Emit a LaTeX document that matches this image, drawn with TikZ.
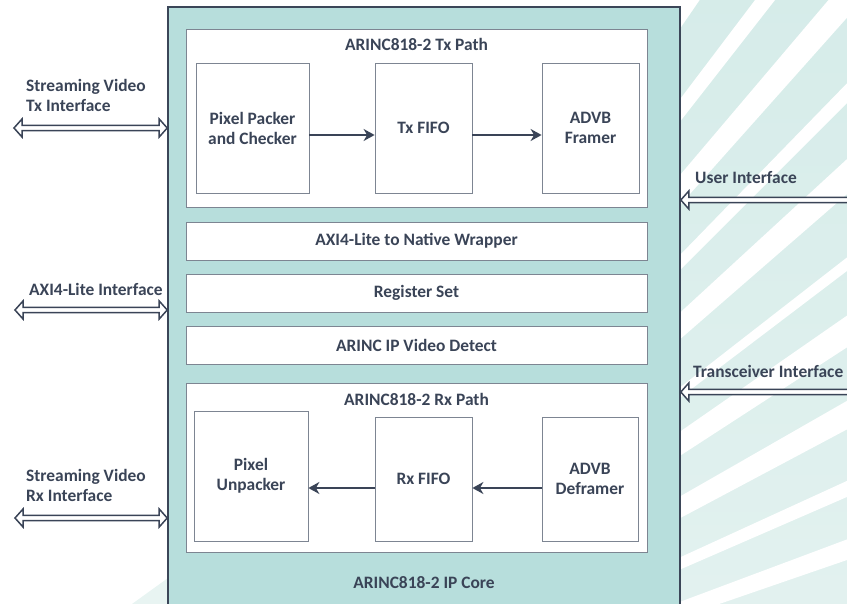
\documentclass[tikz,border=0pt]{standalone}
\usepackage{fontspec}
\setmainfont{Carlito}
\usetikzlibrary{arrows.meta,calc}

\definecolor{corefill}{HTML}{B7DEDC}
\definecolor{coreline}{HTML}{3B4658}
\definecolor{boxline}{HTML}{7D8592}
\definecolor{ink}{HTML}{3A4457}
\definecolor{fantop}{HTML}{CFE9E6}
\definecolor{fanbottom}{HTML}{E6F3F1}
\definecolor{fanpale}{HTML}{E8F4F2}

% hollow double-headed interface arrow from #1 (left end) to #2 (right end)
\newcommand{\portarrow}[2]{%
  \draw[portline] (#1) -- ($(#1)+(8,-9)$) -- ($(#1)+(8,-2.7)$)
    -- ($(#2)+(-8,-2.7)$) -- ($(#2)+(-8,-9)$) -- (#2)
    -- ($(#2)+(-8,9)$) -- ($(#2)+(-8,2.7)$)
    -- ($(#1)+(8,2.7)$) -- ($(#1)+(8,9)$) -- cycle;}

\begin{document}
\begin{tikzpicture}[x=1bp, y=-1bp,
  every node/.style={font=\fontsize{17.4bp}{20bp}\selectfont\bfseries, text=ink},
  corebox/.style={draw=coreline, line width=1.6bp, fill=corefill, inner sep=0},
  blk/.style={draw=boxline, line width=0.8bp, fill=white, align=center, inner sep=0},
  lbl/.style={align=left, inner sep=0},
  flow/.style={draw=ink, line width=2bp, -{Stealth[length=11bp, width=12bp, inset=3.5bp]}},
  portline/.style={draw=ink, fill=white, line width=1.5bp, line join=miter}
]
\useasboundingbox (0,0) rectangle (847,604);
\clip (0,0) rectangle (847,604);

% fan of pale teal strokes behind the core
\coordinate (C) at (150,800);
\shade[top color=fantop, bottom color=fanbottom] (C) -- +({1400*cos(14)},{-1400*sin(14)})
  -- +({1400*cos(55.5)},{-1400*sin(55.5)}) -- cycle;
\foreach \a/\b in {52.0/52.9, 48.3/49.7, 45.0/45.8, 41.0/42.6, 37.2/37.9,
                   33.0/34.8, 28.0/29.8, 23.5/24.6, 19.0/20.5}
  \fill[white] (C) -- +({1400*cos(\a)},{-1400*sin(\a)})
    -- +({1400*cos(\b)},{-1400*sin(\b)}) -- cycle;
\fill[fanpale] (132,604) -- (168,578) -- (168,604) -- cycle;

% IP core
\node[corebox, minimum width=512bp, minimum height=613bp] (core) at (424,313.5) {};
\node (corelbl) at (424,583) {ARINC818-2 IP Core};

% Tx path
\node[blk, minimum width=461bp, minimum height=178bp] (txpath) at (416.5,118) {};
\node[anchor=base] (txtitle) at (416.5,50.5) {ARINC818-2 Tx Path};
\node[blk, minimum width=113bp, minimum height=130bp] (pp) at (252.5,128) {Pixel Packer\\and Checker};
\node[blk, minimum width=97bp, minimum height=130bp] (txfifo) at (423.5,128) {Tx FIFO};
\node[blk, minimum width=97bp, minimum height=130bp] (framer) at (590.5,128) {ADVB\\Framer};
\coordinate (txrow) at (0,135);
\draw[flow] (pp.east |- txrow) -- (txfifo.west |- txrow);
\draw[flow] (txfifo.east |- txrow) -- (framer.west |- txrow);

% shared blocks
\node[blk, minimum width=461bp, minimum height=38bp] (wrap) at (416.5,241) {AXI4-Lite to Native Wrapper};
\node[blk, minimum width=461bp, minimum height=38bp] (regs) at (416.5,293) {Register Set};
\node[blk, minimum width=461bp, minimum height=38bp] (detect) at (416.5,345) {ARINC IP Video Detect};

% Rx path
\node[blk, minimum width=461bp, minimum height=169bp] (rxpath) at (416.5,467.5) {};
\node[anchor=base] (rxtitle) at (416.5,405) {ARINC818-2 Rx Path};
\node[blk, minimum width=114bp, minimum height=130bp] (unpack) at (251,476) {Pixel\\Unpacker};
\node[blk, minimum width=97bp, minimum height=124bp] (rxfifo) at (423.5,479) {Rx FIFO};
\node[blk, minimum width=96bp, minimum height=124bp] (deframer) at (590,479) {ADVB\\Deframer};
\coordinate (rxrow) at (0,488);
\draw[flow] (rxfifo.west |- rxrow) -- (unpack.east |- rxrow);
\draw[flow] (deframer.west |- rxrow) -- (rxfifo.east |- rxrow);

% external interfaces, left side
\coordinate (svtx) at (14,128);
\coordinate (axil) at (15,310);
\coordinate (svrx) at (15,518);
\coordinate (svtxC) at (core.west |- svtx);
\coordinate (axilC) at (core.west |- axil);
\coordinate (svrxC) at (core.west |- svrx);
\portarrow{svtx}{svtxC}
\portarrow{axil}{axilC}
\portarrow{svrx}{svrxC}
\node[lbl, anchor=base west] (svtxlbl) at (26,111.7) {Streaming Video\\Tx Interface};
\node[lbl, anchor=base west] (axillbl) at (29,295) {AXI4-Lite Interface};
\node[lbl, anchor=base west] (svrxlbl) at (26,501.7) {Streaming Video\\Rx Interface};

% external interfaces, right side
\coordinate (user) at (856,200);
\coordinate (xcvr) at (856,392);
\coordinate (userC) at (core.east |- user);
\coordinate (xcvrC) at (core.east |- xcvr);
\portarrow{userC}{user}
\portarrow{xcvrC}{xcvr}
\node[lbl, anchor=base west] (userlbl) at (695,184) {User Interface};
\node[lbl, anchor=base west] (xcvrlbl) at (693,377) {Transceiver Interface};
\end{tikzpicture}
\end{document}
